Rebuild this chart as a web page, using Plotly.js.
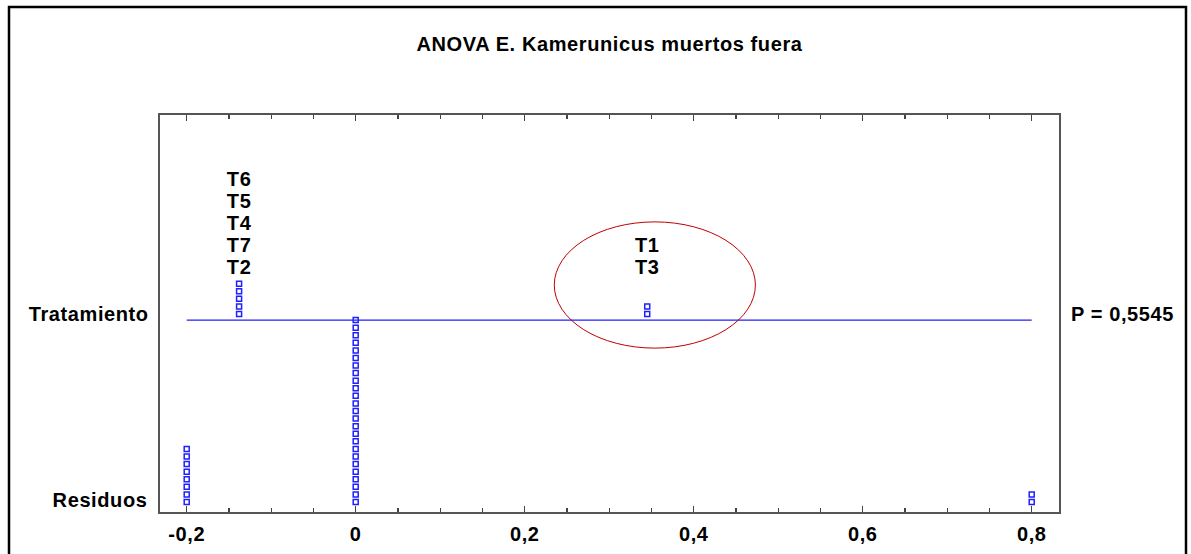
<!DOCTYPE html>
<html>
<head>
<meta charset="utf-8">
<script src="https://cdn.plot.ly/plotly-3.0.1.min.js"></script>
<style>
  html, body { margin: 0; padding: 0; background: #ffffff; }
  #chart { width: 1191px; height: 554px; }
  #chart text { letter-spacing: 0.6px; }
</style>
</head>
<body>
<div id="chart"></div>
<script>
// ---- data ----
const chartTitle = 'ANOVA E. Kamerunicus muertos fuera';
const rowLabels = ['Residuos', 'Tratamiento'];
const residualValues = [-0.2, 0, 0.8];
const residualCounts = [8, 25, 2];
const treatmentNames = ['T2', 'T7', 'T4', 'T5', 'T6', 'T3', 'T1'];
const treatmentEffects = [-0.138, -0.138, -0.138, -0.138, -0.138, 0.345, 0.345];
const pValueText = 'P = 0,5545';
const tickValues = [-0.2, 0, 0.2, 0.4, 0.6, 0.8];
const tickLabels = ['-0,2', '0', '0,2', '0,4', '0,6', '0,8'];

// ---- layout constants (stack units) ----
const treatLineY = 24;       // level of the treatment baseline
const treatStackBase = 24.8; // first treatment square
const labelBase = 30.75;     // first treatment label
const labelStep = 2.9;       // spacing between labels
const FONT = 'Liberation Sans, Arial, Helvetica, sans-serif';
const FS = 20;
const BLUE = '#1f1fff';

// residual dot stacks
const rx = [], ry = [];
residualValues.forEach((v, i) => {
  for (let k = 0; k < residualCounts[i]; k++) { rx.push(v); ry.push(k); }
});

// treatment dot stacks and labels
const tx = [], ty = [], lx = [], ly = [], lt = [];
const stackCount = {};
treatmentNames.forEach((name, i) => {
  const v = treatmentEffects[i];
  const k = stackCount[v] || 0;
  stackCount[v] = k + 1;
  tx.push(v); ty.push(treatStackBase + k);
  lx.push(v); ly.push(labelBase + k * labelStep); lt.push(name);
});

const xmin = Math.min(...residualValues), xmax = Math.max(...residualValues);
// highlighted group (largest effect)
const hiX = Math.max(...treatmentEffects);

const traces = [
  { type: 'scatter', mode: 'lines', x: [xmin, xmax], y: [treatLineY, treatLineY],
    line: { color: BLUE, width: 1.2 }, hoverinfo: 'skip', showlegend: false },
  { type: 'scatter', mode: 'markers', x: rx, y: ry,
    marker: { symbol: 'square-open', size: 5, color: BLUE, line: { color: BLUE, width: 1.5 } },
    showlegend: false },
  { type: 'scatter', mode: 'markers', x: tx, y: ty,
    marker: { symbol: 'square-open', size: 5, color: BLUE, line: { color: BLUE, width: 1.5 } },
    showlegend: false },
  { type: 'scatter', mode: 'text', x: lx, y: ly, text: lt,
    textfont: { family: FONT, size: FS, color: '#000', weight: 'bold' },
    textposition: 'middle center', showlegend: false, hoverinfo: 'skip' }
];

const layout = {
  width: 1191, height: 554,
  margin: { l: 160, r: 132, t: 115, b: 42 },
  paper_bgcolor: '#ffffff', plot_bgcolor: '#ffffff',
  showlegend: false,
  title: { text: chartTitle, x: 0.5, xref: 'paper', xanchor: 'center',
           y: 1 - 44 / 554, yref: 'container', yanchor: 'middle',
           font: { family: FONT, size: FS, color: '#000', weight: 'bold' } },
  xaxis: {
    range: [-0.2316, 0.8323], tickvals: tickValues, ticktext: tickLabels,
    ticks: 'inside', ticklen: 6, tickwidth: 1.5, tickcolor: '#444',
    minor: { dtick: 0.05, ticks: 'inside', ticklen: 4, tickwidth: 1.2, tickcolor: '#444', showgrid: false },
    showline: true, linecolor: '#555', linewidth: 1.6, mirror: 'ticks',
    showgrid: false, zeroline: false,
    tickfont: { family: FONT, size: FS, color: '#000', weight: 'bold' },
    ticklabelstandoff: 3
  },
  yaxis: {
    range: [-1.32, 51.05], showticklabels: false, ticks: '',
    showline: true, linecolor: '#555', linewidth: 1.6, mirror: true,
    showgrid: false, zeroline: false
  },
  annotations: [
    { text: rowLabels[0], xref: 'paper', x: 0, xanchor: 'right', xshift: -13,
      yref: 'y', y: 0.3, yanchor: 'middle', showarrow: false,
      font: { family: FONT, size: FS, color: '#000', weight: 'bold' } },
    { text: rowLabels[1], xref: 'paper', x: 0, xanchor: 'right', xshift: -13,
      yref: 'y', y: treatStackBase, yanchor: 'middle', showarrow: false,
      font: { family: FONT, size: FS, color: '#000', weight: 'bold' } },
    { text: pValueText, xref: 'paper', x: 1, xanchor: 'left', xshift: 13,
      yref: 'y', y: treatStackBase, yanchor: 'middle', showarrow: false,
      font: { family: FONT, size: FS, color: '#000', weight: 'bold' } }
  ],
  shapes: [
    { type: 'rect', xref: 'paper', yref: 'paper',
      x0: (9 - 160) / 899, x1: (1186 - 160) / 899,
      y0: (512 - 570) / 397, y1: (512 - 7) / 397,
      line: { color: '#000', width: 2.5 }, fillcolor: 'rgba(0,0,0,0)', layer: 'above' },
    { type: 'circle', xref: 'x', yref: 'y',
      x0: hiX - 0.110, x1: hiX + 0.128,
      y0: 20.3, y1: 36.95,
      line: { color: '#c00000', width: 1 }, fillcolor: 'rgba(0,0,0,0)', layer: 'above' }
  ]
};

Plotly.newPlot('chart', traces, layout, { displayModeBar: false, staticPlot: true });
</script>
</body>
</html>
